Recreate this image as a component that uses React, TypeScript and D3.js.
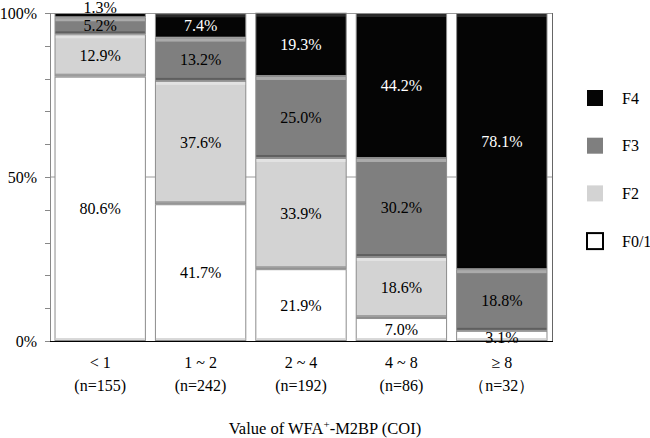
import React from "react";
import * as d3 from "d3";

const categories = ["< 1", "1 ~ 2", "2 ~ 4", "4 ~ 8", "≥ 8"];
const counts = ["(n=155)", "(n=242)", "(n=192)", "(n=86)", "（n=32）"];
const seriesNames = ["F0/1", "F2", "F3", "F4"];
const f01 = [80.6, 41.7, 21.9, 7.0, 3.1];
const f2 = [12.9, 37.6, 33.9, 18.6, 0];
const f3 = [5.2, 13.2, 25.0, 30.2, 18.8];
const f4 = [1.3, 7.4, 19.3, 44.2, 78.1];
const yTickLabels = [0, 50, 100];

const colors = ["#ffffff", "#d3d3d3", "#7f7f7f", "#050505"];
const textColors = ["#000", "#000", "#000", "#fff"];

export default function App() {
  const W = 650, H = 438;
  const left = 50, right = 552, top = 13, bottom = 341;
  const x = d3.scaleBand<string>().domain(categories).range([left, right]).paddingInner(0.09).paddingOuter(0.045);
  const y = d3.scaleLinear().domain([0, 100]).range([bottom, top]);
  const data = categories.map((c, i) => ({ cat: c, "F0/1": f01[i], F2: f2[i], F3: f3[i], F4: f4[i] }));
  const stack = d3.stack<any>().keys(seriesNames)(data);
  const minorTicks = d3.range(0, 101, 10);
  const font = "'Liberation Serif', 'Times New Roman', Times, serif";

  return (
    <svg width={W} height={H} style={{ position: "absolute", left: 0, top: 0 }} fontFamily={font}>
      <rect x={0} y={0} width={W} height={H} fill="#fff" />
      <line x1={left} x2={right} y1={y(50)} y2={y(50)} stroke="#9a9a9a" strokeWidth={1} />
      <line x1={left} x2={right} y1={y(100) + 0.5} y2={y(100) + 0.5} stroke="#9a9a9a" strokeWidth={1} />
      <line x1={right + 0.5} x2={right + 0.5} y1={top} y2={bottom} stroke="#666" strokeWidth={1} />
      {stack.map((layer, si) => (
        <g key={seriesNames[si]}>
          {layer.map((d, i) => {
            const v = d[1] - d[0];
            if (v <= 0) return null;
            const bx = x(categories[i])!;
            const bw = x.bandwidth();
            const y0 = y(d[1]);
            const h = y(d[0]) - y(d[1]);
            return (
              <g key={i}>
                <rect x={bx + 0.5} y={y0 + 0.5} width={bw - 1} height={Math.max(h - 1, 0)} fill={colors[si]} stroke="#8c8c8c" strokeWidth={1} />
                {h > 6 && si > 0 && (
                  <rect x={bx + 1} y={y0 + 1} width={bw - 2} height={3} fill="#fff" opacity={si === 3 ? 0.15 : 0.35} />
                )}
                {h > 6 && (
                  <rect x={bx + 1} y={y0 + h - 3} width={bw - 2} height={2} fill={si === 0 ? "#cfcfcf" : "#000"} opacity={si === 0 ? 0.8 : 0.25} />
                )}
              </g>
            );
          })}
        </g>
      ))}
      {stack.map((layer, si) =>
        layer.map((d, i) => {
          const v = d[1] - d[0];
          if (v <= 0) return null;
          const cx = x(categories[i])! + x.bandwidth() / 2;
          let cy = (y(d[0]) + y(d[1])) / 2;
          let fill = textColors[si];
          if (si === 3 && i === 0) {
            cy = 7;
            fill = "#000";
          }
          if (si === 0 && i === 4) cy = y(d[0]) - 4;
          return (
            <text key={`${si}-${i}`} x={cx} y={cy} dy="0.35em" textAnchor="middle" fontSize={16} fill={fill}>
              {`${v.toFixed(1)}%`}
            </text>
          );
        })
      )}
      <line x1={left + 0.5} x2={left + 0.5} y1={top} y2={bottom} stroke="#888" strokeWidth={1} />
      {minorTicks.map((t) => (
        <line key={t} x1={left - 5} x2={left} y1={Math.round(y(t)) + 0.5} y2={Math.round(y(t)) + 0.5} stroke="#888" strokeWidth={1} />
      ))}
      {yTickLabels.map((t) => (
        <text key={t} x={37} y={y(t)} dy="0.35em" textAnchor="end" fontSize={16} fill="#000">{`${t}%`}</text>
      ))}
      <line x1={left} x2={right + 1} y1={bottom + 0.5} y2={bottom + 0.5} stroke="#000" strokeWidth={1} />
      {categories.map((c, i) => {
        const cx = x(c)! + x.bandwidth() / 2;
        return (
          <g key={c}>
            <text x={cx} y={362} dy="0.35em" textAnchor="middle" fontSize={16}>{c}</text>
            <text x={cx} y={385} dy="0.35em" textAnchor="middle" fontSize={16}>{counts[i]}</text>
          </g>
        );
      })}
      <text x={325} y={434} textAnchor="middle" fontSize={16.5}>
        Value of WFA<tspan dy={-6} fontSize={11}>+</tspan><tspan dy={6}>-M2BP (COI)</tspan>
      </text>
      {seriesNames.slice().reverse().map((s, k) => {
        const si = 3 - k;
        const cy = 98 + k * 47.7;
        return (
          <g key={s}>
            <rect x={587} y={cy - 8} width={16} height={16} fill={colors[si]} stroke={si === 0 ? "#000" : "none"} strokeWidth={2} />
            <text x={622} y={cy} dy="0.35em" fontSize={16}>{s}</text>
          </g>
        );
      })}
    </svg>
  );
}
